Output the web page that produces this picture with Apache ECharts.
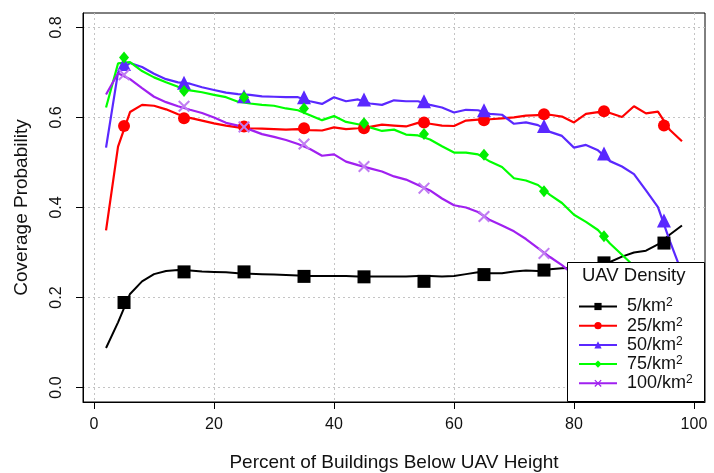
<!DOCTYPE html>
<html>
<head>
<meta charset="utf-8">
<script src="https://cdn.jsdelivr.net/npm/echarts@6/dist/echarts.min.js"></script>
<style>
  html, body { margin: 0; padding: 0; background: #ffffff; }
  #chart { width: 714px; height: 473px; }
</style>
</head>
<body>
<div id="chart"></div>
<script>
// Percent of buildings below the UAV height, sampled every 2 %
const xLine = [2,4,6,8,10,12,14,16,18,20,22,24,26,28,30,32,34,36,38,40,42,44,46,48,50,
               52,54,56,58,60,62,64,66,68,70,72,74,76,78,80,82,84,86,88,90,92,94,96,98];
// Positions of the plotted markers
const xMarks = [5,15,25,35,45,55,65,75,85,95];

const xTicks = [0,20,40,60,80,100];
const yTicks = [0,0.2,0.4,0.6,0.8];

const densityNames = ['5/km²','25/km²','50/km²','75/km²','100/km²'];

// Coverage probability curves
const line5 = [0.088,0.145,0.208,0.236,0.252,0.259,0.261,0.260,0.258,0.257,0.256,0.254,0.253,0.252,0.251,0.250,0.249,0.248,0.248,0.248,0.248,0.247,0.247,0.247,0.247,0.247,0.248,0.248,0.247,0.248,0.252,0.256,0.254,0.254,0.258,0.260,0.259,0.263,0.265,0.266,0.270,0.275,0.279,0.291,0.300,0.304,0.318,0.340,0.360];
const line25 = [0.349,0.535,0.612,0.628,0.626,0.618,0.607,0.599,0.593,0.587,0.582,0.578,0.576,0.575,0.574,0.573,0.574,0.572,0.571,0.578,0.574,0.576,0.579,0.584,0.582,0.580,0.588,0.586,0.582,0.581,0.593,0.595,0.596,0.598,0.600,0.604,0.605,0.606,0.602,0.589,0.608,0.612,0.610,0.601,0.625,0.609,0.613,0.572,0.547];
const line50 = [0.533,0.700,0.721,0.712,0.697,0.685,0.678,0.675,0.667,0.661,0.655,0.652,0.650,0.647,0.646,0.645,0.645,0.636,0.630,0.645,0.636,0.640,0.631,0.628,0.638,0.636,0.636,0.628,0.622,0.611,0.617,0.616,0.608,0.606,0.586,0.589,0.583,0.568,0.559,0.533,0.539,0.527,0.503,0.491,0.474,0.438,0.401,0.325,0.255];
const line75 = [0.622,0.720,0.723,0.703,0.689,0.678,0.668,0.660,0.656,0.650,0.645,0.635,0.631,0.628,0.626,0.620,0.616,0.605,0.594,0.603,0.590,0.585,0.578,0.570,0.573,0.562,0.560,0.551,0.536,0.522,0.522,0.518,0.502,0.490,0.465,0.460,0.450,0.428,0.410,0.384,0.368,0.350,0.320,0.295,0.270,0.245,0.215,0.190,0.165];
const line100 = [0.651,0.698,0.685,0.665,0.646,0.634,0.625,0.617,0.610,0.600,0.588,0.582,0.573,0.563,0.557,0.550,0.541,0.530,0.515,0.518,0.502,0.494,0.487,0.480,0.469,0.462,0.450,0.438,0.420,0.405,0.400,0.390,0.372,0.360,0.347,0.330,0.310,0.290,0.272,0.250,0.230,0.210,0.190,0.170,0.150,0.130,0.110,0.090,0.070];

// Marker values at xMarks
const mark5 = [0.189,0.257,0.257,0.247,0.246,0.236,0.251,0.261,0.277,0.321];
const mark25 = [0.581,0.598,0.580,0.576,0.576,0.589,0.594,0.607,0.614,0.582];
const mark50 = [0.719,0.677,0.647,0.645,0.640,0.636,0.616,0.581,0.520,0.371];
const mark75 = [0.733,0.659,0.645,0.620,0.587,0.563,0.517,0.436,0.336,0.190];
const mark100 = [0.695,0.625,0.579,0.541,0.491,0.443,0.380,0.298,0.210,0.110];

const lines = [line5, line25, line50, line75, line100];
const marks = [mark5, mark25, mark50, mark75, mark100];

const FONT = '"Liberation Sans", Arial, Helvetica, sans-serif';
const crossPath = 'path://M0,1.2L1.2,0L5,3.8L8.8,0L10,1.2L6.2,5L10,8.8L8.8,10L5,6.2L1.2,10L0,8.8L3.8,5Z';

const looks = [
  { line: '#000000', mark: '#000000', symbol: 'rect',     size: 13, width: 2 },
  { line: '#ff0000', mark: '#ff0000', symbol: 'circle',   size: 12, width: 2.2 },
  { line: '#5a28ff', mark: '#5a28ff', symbol: 'triangle', size: 14, width: 2.2 },
  { line: '#00ff00', mark: '#00ee00', symbol: 'diamond',  size: [10, 12], width: 2.2 },
  { line: '#a020f0', mark: '#c07cf2', symbol: crossPath,  size: 12, width: 2.2 }
];

const series = [];
densityNames.forEach((name, i) => {
  const lk = looks[i];
  series.push({
    name: name,
    type: 'line',
    data: xLine.map((x, k) => [x, lines[i][k]]),
    symbol: lk.symbol,
    showSymbol: false,
    lineStyle: { color: lk.line, width: lk.width },
    itemStyle: { color: lk.line },
    emphasis: { disabled: true },
    silent: true,
    z: 2
  });
  series.push({
    name: name,
    type: 'scatter',
    data: xMarks.map((x, k) => [x, marks[i][k]]),
    symbol: lk.symbol,
    symbolSize: lk.size,
    itemStyle: { color: lk.mark, opacity: 1 },
    emphasis: { disabled: true },
    silent: true,
    z: 2
  });
});

const gridLine = { show: true, lineStyle: { color: '#c4c4c4', type: [2, 3], width: 1 } };

const chart = echarts.init(document.getElementById('chart'), null, { renderer: 'canvas' });
chart.setOption({
  animation: false,
  backgroundColor: '#ffffff',
  grid: {
    left: 83, right: 9, top: 13, bottom: 71,
    containLabel: false,
    outerBoundsMode: 'none',
    show: true, borderColor: '#000000', borderWidth: 1, backgroundColor: 'transparent'
  },
  xAxis: {
    type: 'value',
    min: -1.84, max: 101.84,
    name: 'Percent of Buildings Below UAV Height',
    nameLocation: 'middle',
    nameGap: 51,
    nameTextStyle: { fontFamily: FONT, fontSize: 19, color: '#111' },
    axisLine: { show: true, onZero: false, lineStyle: { color: '#000', width: 1 } },
    axisTick: { show: true, inside: false, length: 7, customValues: xTicks, lineStyle: { color: '#000', width: 1 } },
    axisLabel: { customValues: xTicks, fontFamily: FONT, fontSize: 16, color: '#111', margin: 15 },
    splitLine: gridLine
  },
  yAxis: {
    type: 'value',
    min: -0.032, max: 0.832,
    name: 'Coverage Probability',
    nameLocation: 'middle',
    nameGap: 52,
    nameTextStyle: { fontFamily: FONT, fontSize: 19, color: '#111' },
    axisLine: { show: true, onZero: false, lineStyle: { color: '#000', width: 1 } },
    axisTick: { show: true, inside: false, length: 7, customValues: yTicks, lineStyle: { color: '#000', width: 1 } },
    axisLabel: {
      customValues: yTicks, rotate: 90, fontFamily: FONT, fontSize: 16, color: '#111', margin: 18,
      formatter: v => Number(v).toFixed(1)
    },
    splitLine: gridLine
  },
  legend: {
    orient: 'vertical',
    left: 573, top: 292,
    itemWidth: 38, itemHeight: 9, itemGap: 0.7,
    selectedMode: false,
    z: 60,
    data: densityNames,
    formatter: n => '{b|' + n.replace('²', '') + '}{s|2}',
    textStyle: {
      rich: {
        b: { fontFamily: FONT, fontSize: 18, color: '#111', lineHeight: 19, padding: [0, 0, 0, 5] },
        s: { fontFamily: FONT, fontSize: 12, color: '#111', lineHeight: 19, verticalAlign: 'top' }
      }
    }
  },
  graphic: [
    {
      type: 'rect', right: 9, bottom: 71, z: 50,
      shape: { width: 137, height: 139 },
      style: { fill: '#ffffff', stroke: '#000000', lineWidth: 1 }
    },
    {
      type: 'text', left: 582, top: 266, z: 51,
      style: { text: 'UAV Density', font: '18.5px ' + FONT, fill: '#111' }
    }
  ],
  series: series
});
</script>
</body>
</html>
